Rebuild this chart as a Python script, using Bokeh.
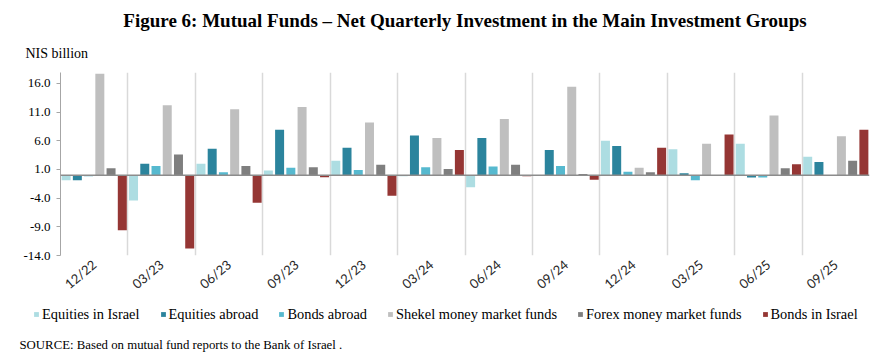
from bokeh.plotting import figure
from bokeh.models import (Range1d, FixedTicker, PrintfTickFormatter, Span, Title, Label,
                          Legend, LegendItem, ColumnDataSource)
from bokeh.embed import file_html
from bokeh.resources import INLINE

quarters = ["12/22", "03/23", "06/23", "09/23", "12/23", "03/24",
            "06/24", "09/24", "12/24", "03/25", "06/25", "09/25"]
eq_israel = [-0.9, -4.4, 2.0, 0.8, 2.5, -0.2, -2.1, 0.0, 6.0, 4.5, 5.5, 3.2]
eq_abroad = [-0.9, 2.0, 4.6, 7.9, 4.8, 6.9, 6.5, 4.4, 5.1, 0.35, -0.4, 2.3]
bonds_abroad = [-0.2, 1.6, 0.5, 1.3, 0.9, 1.4, 1.5, 1.6, 0.6, -0.9, -0.4, 0.0]
shekel_mm = [17.7, 12.2, 11.5, 11.9, 9.2, 6.5, 9.8, 15.4, 1.3, 5.5, 10.4, 6.8]
forex_mm = [1.2, 3.6, 1.6, 1.4, 1.8, 1.1, 1.8, 0.2, 0.5, 0.0, 1.2, 2.5]
bonds_israel = [-9.6, -12.8, -4.8, -0.35, -3.6, 4.4, -0.2, -0.8, 4.8, 7.1, 1.9, 7.9]

series_names = ["Equities in Israel", "Equities abroad", "Bonds abroad",
                "Shekel money market funds", "Forex money market funds", "Bonds in Israel"]
series_values = [eq_israel, eq_abroad, bonds_abroad, shekel_mm, forex_mm, bonds_israel]
series_colors = ["#ADDDE2", "#2B849D", "#56B9CF", "#BFBFBF", "#7F7F7F", "#953634"]

y_ticks = [-14, -9, -4, 1, 6, 11, 16]

title_text = "Figure 6: Mutual Funds \u2013 Net Quarterly Investment in the Main Investment Groups"
unit_text = "NIS billion"
source_text = "SOURCE:  Based on mutual fund reports to the Bank of Israel ."

SERIF = "'Liberation Serif', 'Times New Roman', Times, serif"

n = len(quarters)
k = len(series_names)

# ---------------- main chart ----------------
p = figure(width=886, height=300, output_backend="svg", toolbar_location=None,
           x_range=Range1d(0, n), y_range=Range1d(-14, 17.9),
           min_border_left=60, min_border_right=17, min_border_top=72, min_border_bottom=45)
p.title_location = None
p.outline_line_color = None
p.background_fill_color = "white"
p.border_fill_color = "white"

for j, (name, vals, col) in enumerate(zip(series_names, series_values, series_colors)):
    xs = [i + (j + 0.5) / k for i in range(n)]
    src = ColumnDataSource(dict(x=xs, top=vals))
    p.vbar(x="x", top="top", bottom=0, width=0.8 / k, source=src,
           fill_color=col, line_color=None)

# zero line
p.add_layout(Span(location=0, dimension="width", line_color="#8C8C8C", line_width=1.5))

# grid
p.ygrid.grid_line_color = None
p.xgrid.ticker = FixedTicker(ticks=list(range(1, n + 1)))
p.xgrid.grid_line_color = "#D9D9D9"
p.xgrid.grid_line_width = 1.5

# y axis
p.yaxis.ticker = FixedTicker(ticks=y_ticks)
p.yaxis.formatter = PrintfTickFormatter(format="%.1f")
p.yaxis.major_label_text_font = SERIF
p.yaxis.major_label_text_font_size = "13px"
p.yaxis.major_label_text_color = "#000000"
p.yaxis.axis_line_color = "#A6A6A6"
p.yaxis.major_tick_line_color = "#A6A6A6"
p.yaxis.major_tick_out = 4
p.yaxis.major_tick_in = 0
p.yaxis.minor_tick_line_color = None
p.yaxis.major_label_standoff = 6

# x axis
centers = [i + 0.5 for i in range(n)]
p.xaxis.ticker = FixedTicker(ticks=centers)
p.xaxis.major_label_overrides = {c: q for c, q in zip(centers, quarters)}
p.xaxis.major_label_orientation = 0.7
p.xaxis.major_label_text_font = "Lato"
p.xaxis.major_label_text_font_size = "13px"
p.xaxis.major_label_text_color = "#262626"
p.xaxis.axis_line_color = None
p.xaxis.major_tick_line_color = None
p.xaxis.minor_tick_line_color = None
p.xaxis.major_tick_out = 0
p.xaxis.major_tick_in = 0
p.xaxis.major_label_standoff = 7

# titles above (first added = closest to the frame)
p.add_layout(Title(text=unit_text, align="left", offset=-35, standoff=24,
                   text_font=SERIF, text_font_size="14px", text_font_style="normal",
                   text_color="#000000"), "above")
p.add_layout(Title(text=title_text, align="center", offset=5, standoff=1,
                   text_font=SERIF, text_font_size="19px", text_font_style="bold",
                   text_color="#000000"), "above")

# ---------------- legend + source strip (separate root, frame spans full width) -------------
p2 = figure(width=886, height=64, output_backend="svg", toolbar_location=None,
            x_range=Range1d(0, 1), y_range=Range1d(0, 1),
            x_axis_location=None, y_axis_location=None,
            min_border_left=0, min_border_right=0, min_border_top=0, min_border_bottom=0)
p2.title_location = None
p2.outline_line_color = None
p2.xgrid.grid_line_color = None
p2.ygrid.grid_line_color = None
p2.background_fill_color = "white"
p2.border_fill_color = "white"

items = []
for name, col in zip(series_names, series_colors):
    # zero-height legend handle (nothing visible is drawn)
    r = p2.vbar(x=[0.5], top=[0], bottom=[0], width=0.1, fill_color=col, line_color=None)
    items.append(LegendItem(label=name, renderers=[r]))

legend = Legend(items=items, orientation="horizontal", location=(33, 40),
                glyph_width=6, glyph_height=6, label_standoff=3, spacing=20,
                padding=0, margin=0, border_line_color=None, background_fill_alpha=0,
                label_text_font=SERIF, label_text_font_size="14.4px",
                label_text_color="#000000", label_height=20)
p2.add_layout(legend, "center")

p2.add_layout(Label(x=19, y=20, x_units="screen", y_units="screen", text=source_text,
                    text_font=SERIF, text_font_size="12.8px", text_align="left",
                    text_baseline="middle", text_color="#000000"))

open("out.html", "w").write(file_html([p, p2], INLINE))
